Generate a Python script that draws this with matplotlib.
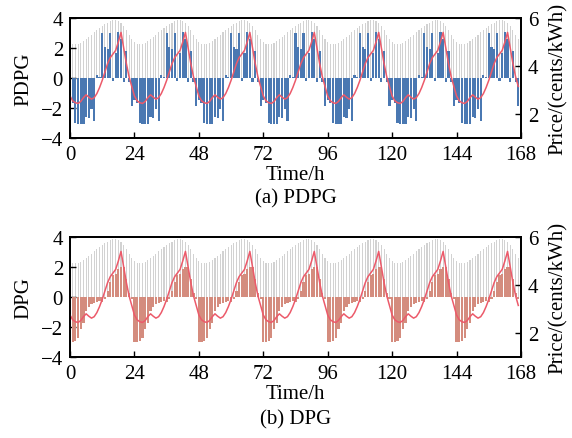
import numpy as np
import matplotlib.pyplot as plt

plt.rcParams['font.family'] = ['Liberation Serif', 'DejaVu Serif']
plt.rcParams['font.size'] = 15

# hourly profile of one day (hour 0..23); the week repeats it
load_day = [2.42, 2.3, 2.29, 2.29, 2.33, 2.47, 2.6, 2.73, 2.9, 3.04, 3.18, 3.31,
            3.44, 3.58, 3.67, 3.8, 3.86, 3.86, 3.8, 3.68, 3.5, 3.2, 2.9, 2.6]
pdpg_day = [-1.5, -1.7, -3.0, -3.05, -3.05, -3.05, -2.6, -2.7, -2.1, -2.85, 0.2, 0.05,
            3.0, 2.1, 1.95, 3.0, -0.2, 1.7, 3.1, 2.6, -0.3, 1.8, -0.3, -1.85]
dpg_day = [-3.0, -3.0, -2.95, -2.7, -2.1, -1.7, -0.9, -0.65, -0.45, -0.4, -0.3, -0.25,
           -0.3, -0.15, 0.4, 1.0, 1.5, 1.55, 1.9, 2.0, 2.0, 1.2, 0.3, -0.1]
price_day = [2.75, 2.55, 2.47, 2.44, 2.52, 2.68, 2.8, 2.7, 2.62, 2.68, 2.85, 3.1,
             3.4, 3.75, 4.1, 4.35, 4.5, 4.65, 5.0, 5.4, 4.75, 4.1, 3.55, 3.15]
n_days = 7

hours = np.arange(24 * n_days)
load = np.tile(load_day, n_days)
pdpg = np.tile(pdpg_day, n_days)
dpg = np.tile(dpg_day, n_days)
price = np.tile(price_day, n_days)

fig = plt.figure(figsize=(5.72, 4.39), dpi=100)
ax_top = fig.add_axes([0.1224, 0.6834, 0.7884, 0.2733])
ax_bot = fig.add_axes([0.1224, 0.1845, 0.7884, 0.2733])

panels = [(ax_top, pdpg, '#4a78b2', 'PDPG', '(a) PDPG', 0.5467),
          (ax_bot, dpg, '#d48c7e', 'DPG', '(b) DPG', 0.0433)]

for ax, vals, col, name, caption, cap_y in panels:
    ax.bar(hours, load, width=0.4, color='#d2d2d2', zorder=1)
    ax.bar(hours, vals, width=0.8, color=col, zorder=2)
    ax.set_xlim(0, 168)
    ax.set_ylim(-4, 4)
    ax.set_xticks(range(0, 169, 24))
    ax.set_yticks([-4, -2, 0, 2, 4])
    ax.tick_params(direction='in', length=4, width=1, pad=5)
    ax.set_xlabel('Time/h', labelpad=1)
    ax.set_ylabel(name, labelpad=5)
    for s in ax.spines.values():
        s.set_linewidth(1.3)

    axr = ax.twinx()
    axr.plot(hours, price, color='#ec5a6a', lw=1.1)
    axr.set_ylim(1, 6)
    axr.set_yticks([2, 4, 6])
    axr.tick_params(direction='in', length=4, width=1, pad=5)
    axr.set_ylabel('Price/(cents/kWh)', labelpad=7)
    for s in axr.spines.values():
        s.set_linewidth(1.3)

    fig.text(0.5166, cap_y, caption, ha='center', va='center')

fig.savefig('out.png', dpi=100)
